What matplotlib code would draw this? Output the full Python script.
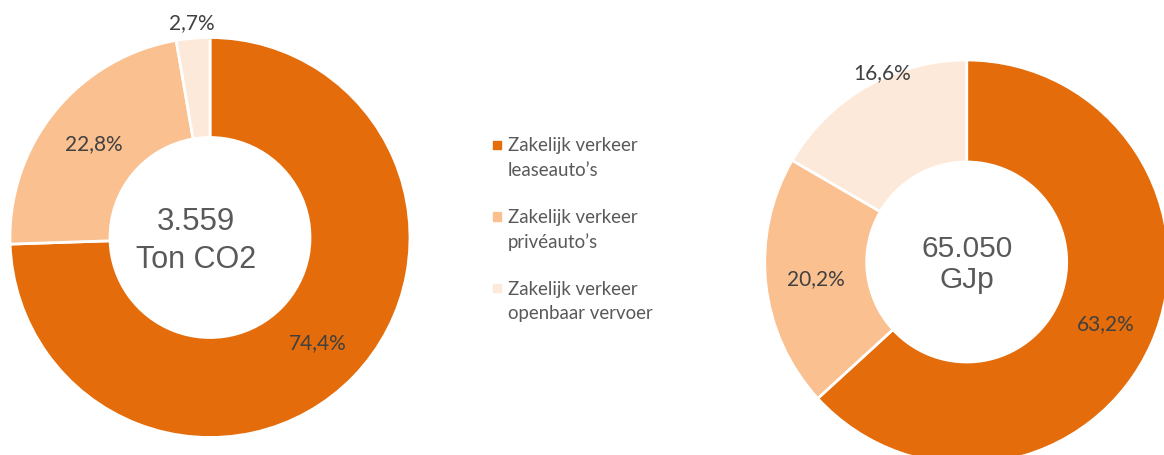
import numpy as np
import matplotlib.pyplot as plt
from matplotlib.patches import Rectangle

# data
categories = ["Zakelijk verkeer\nleaseauto’s",
              "Zakelijk verkeer\nprivéauto’s",
              "Zakelijk verkeer\nopenbaar vervoer"]
co2_share = [74.4, 22.8, 2.7]
energy_share = [63.2, 20.2, 16.6]
co2_total = ["3.559", "Ton CO2"]
energy_total = ["65.050", "GJp"]

colors = ["#E46C0A", "#FAC090", "#FDE9D9"]
label_color = "#404040"
center_color = "#595959"

W, H = 1164, 456
fig = plt.figure(figsize=(W / 100, H / 100), dpi=100)
ax = fig.add_axes([0, 0, 1, 1])


def donut(values, center, r_out, r_in, lbl_r, lbl_shift):
    wedges, _ = ax.pie(values, colors=colors, startangle=90, counterclock=False,
                       center=center, radius=r_out, normalize=True,
                       wedgeprops=dict(width=r_out - r_in, edgecolor="white", linewidth=2))
    for w, v, fr, sh in zip(wedges, values, lbl_r, lbl_shift):
        mid = np.deg2rad((w.theta1 + w.theta2) / 2 + sh)
        x = center[0] + fr * r_out * np.cos(mid)
        y = center[1] + fr * r_out * np.sin(mid)
        ax.text(x, y, f"{v:.1f}".replace(".", ",") + "%", ha="center", va="center",
                fontsize=15, color=label_color, family="Lato")
    return wedges


# left donut: CO2
donut(co2_share, (210, H - 238.5), 200, 100, [0.75, 0.75, 1.08], [0, 0, 0])
ax.text(196, H - 230, co2_total[0], ha="center", va="baseline", fontsize=22.5,
        color=center_color, family="Liberation Sans")
ax.text(196, H - 268, co2_total[1], ha="center", va="baseline", fontsize=22,
        color=center_color, family="Liberation Sans")

# right donut: energy
donut(energy_share, (966.7, H - 263), 202, 100, [0.75, 0.75, 1.03], [0, 0, -6])
ax.text(967, H - 256.7, energy_total[0], ha="center", va="baseline", fontsize=21.5,
        color=center_color, family="Liberation Sans")
ax.text(967, H - 288.3, energy_total[1], ha="center", va="baseline", fontsize=21.5,
        color=center_color, family="Liberation Sans")

# legend, drawn by hand
for i, (lab, c) in enumerate(zip(categories, colors)):
    y0 = H - (146 + i * 71.5)
    ax.add_patch(Rectangle((492.7, y0 - 4.3), 8.6, 8.6, color=c))
    for j, line in enumerate(lab.split("\n")):
        ax.text(508, y0 - j * 24.5, line, ha="left", va="center", fontsize=13.4,
                color=center_color, family="Lato")

ax.set_xlim(0, W)
ax.set_ylim(0, H)
ax.set_aspect("equal")
ax.axis("off")

fig.savefig("out.png", dpi=100)
